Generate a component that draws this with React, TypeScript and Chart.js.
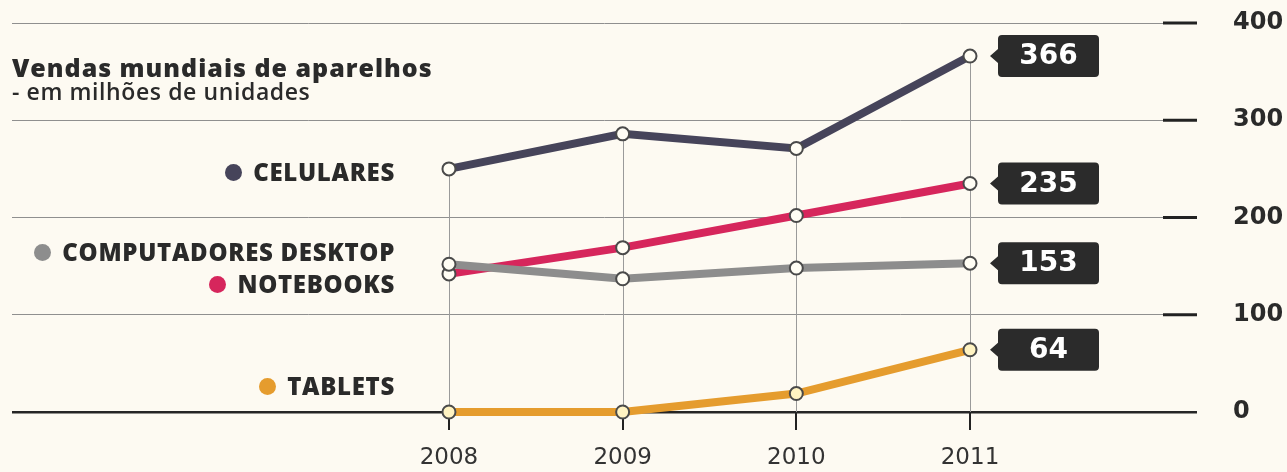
import React, { useEffect, useRef } from 'react';
import { Chart, registerables } from 'chart.js';

Chart.register(...registerables);

const years = [2008, 2009, 2010, 2011];
const celulares = [250, 286, 271, 366];
const desktops = [152, 137, 148, 153];
const notebooks = [142, 169, 202, 235];
const tablets = [0, 0, 19, 64];
const yTickValues = [0, 100, 200, 300, 400];

const titleText = 'Vendas mundiais de aparelhos';
const subtitleText = '- em milhões de unidades';

const seriesNames = ['CELULARES', 'COMPUTADORES DESKTOP', 'NOTEBOOKS', 'TABLETS'];
const seriesColors = ['#46445a', '#8d8d8d', '#d6265c', '#e59c2e'];
const legendTops = [172, 252, 284, 386];

const BG = '#fdfaf2';
const INK = '#2a2a2a';
const FONT = '"Open Sans", "DejaVu Sans", sans-serif';
const WIDE = '"DejaVu Sans", "Open Sans", sans-serif';

const bgPlugin = {
  id: 'bg',
  beforeDraw(chart: any) {
    const { ctx, width, height } = chart;
    ctx.save();
    ctx.fillStyle = BG;
    ctx.fillRect(0, 0, width, height);
    ctx.restore();
  },
};

const guidePlugin = {
  id: 'guides',
  beforeDatasetsDraw(chart: any) {
    const { ctx, scales } = chart;
    const xs = scales.x;
    const ys = scales.y;
    ctx.save();
    ctx.strokeStyle = '#9a9a9a';
    ctx.lineWidth = 1;
    years.forEach((yr, i) => {
      let maxV = 0;
      chart.data.datasets.forEach((ds: any) => {
        const v = ds.data[i].y;
        if (v > maxV) maxV = v;
      });
      const x = Math.round(xs.getPixelForValue(yr)) + 0.5;
      ctx.beginPath();
      ctx.moveTo(x, ys.getPixelForValue(maxV));
      ctx.lineTo(x, ys.getPixelForValue(0));
      ctx.stroke();
    });
    ctx.strokeStyle = '#222';
    ctx.lineWidth = 3;
    yTickValues.forEach((v) => {
      if (v === 0) return;
      const y = ys.getPixelForValue(v);
      ctx.beginPath();
      ctx.moveTo(chart.chartArea.right - 34, y);
      ctx.lineTo(chart.chartArea.right, y);
      ctx.stroke();
    });
    ctx.restore();
  },
};

const boxPlugin = {
  id: 'valueBoxes',
  afterDatasetsDraw(chart: any) {
    const { ctx } = chart;
    ctx.save();
    chart.data.datasets.forEach((ds: any, i: number) => {
      const meta = chart.getDatasetMeta(i);
      const pt = meta.data[meta.data.length - 1];
      const val = ds.data[ds.data.length - 1].y;
      const tipX = pt.x + 20;
      const left = pt.x + 28;
      const w = 101;
      const h = 42;
      const top = pt.y - h / 2;
      const r = 4;
      ctx.fillStyle = '#2b2b2b';
      ctx.beginPath();
      ctx.moveTo(left + r, top);
      ctx.lineTo(left + w - r, top);
      ctx.quadraticCurveTo(left + w, top, left + w, top + r);
      ctx.lineTo(left + w, top + h - r);
      ctx.quadraticCurveTo(left + w, top + h, left + w - r, top + h);
      ctx.lineTo(left + r, top + h);
      ctx.quadraticCurveTo(left, top + h, left, top + h - r);
      ctx.lineTo(left, pt.y + 7);
      ctx.lineTo(tipX, pt.y);
      ctx.lineTo(left, pt.y - 7);
      ctx.lineTo(left, top + r);
      ctx.quadraticCurveTo(left, top, left + r, top);
      ctx.closePath();
      ctx.fill();
      ctx.fillStyle = '#ffffff';
      ctx.font = `bold 28px ${WIDE}`;
      ctx.textAlign = 'center';
      ctx.textBaseline = 'middle';
      ctx.fillText(String(val), left + w / 2, pt.y + 1);
    });
    ctx.restore();
  },
};

function makeDataset(label: string, values: number[], color: string, pointFill: string) {
  return {
    label,
    data: values.map((v, i) => ({ x: years[i], y: v })),
    borderColor: color,
    backgroundColor: color,
    borderWidth: 8,
    pointRadius: 6.5,
    pointBorderWidth: 2,
    pointBorderColor: '#4a4a4a',
    pointBackgroundColor: pointFill,
    tension: 0,
    clip: false as any,
  };
}

export default function App() {
  const canvasRef = useRef<HTMLCanvasElement | null>(null);

  useEffect(() => {
    if (!canvasRef.current) return;
    const chart = new Chart(canvasRef.current, {
      type: 'line',
      data: {
        datasets: [
          makeDataset(seriesNames[0], celulares, seriesColors[0], '#fffdf4'),
          makeDataset(seriesNames[1], desktops, seriesColors[1], '#fffdf4'),
          makeDataset(seriesNames[2], notebooks, seriesColors[2], '#fffdf4'),
          makeDataset(seriesNames[3], tablets, seriesColors[3], '#fff3c2'),
        ],
      },
      options: {
        responsive: false,
        animation: false,
        devicePixelRatio: 1,
        layout: { padding: { top: 23, left: 12, right: 0, bottom: 0 } },
        plugins: {
          legend: { display: false },
          tooltip: { enabled: false },
          title: { display: false },
        },
        scales: {
          x: {
            type: 'linear',
            min: 2005.484,
            max: 2012.307,
            afterBuildTicks: (s: any) => {
              s.ticks = years.map((v) => ({ value: v }));
            },
            afterFit: (s: any) => {
              s.height = 60;
              s.paddingLeft = 0;
              s.paddingRight = 0;
            },
            ticks: {
              callback: (v: any) => String(v),
              color: '#333',
              font: { family: WIDE, size: 23 },
              padding: 14,
              maxRotation: 0,
              autoSkip: false,
            },
            grid: {
              drawOnChartArea: false,
              drawTicks: true,
              tickLength: 18,
              color: '#222',
              lineWidth: 2,
            },
            border: { display: false },
          },
          y: {
            position: 'right',
            min: 0,
            max: 400,
            afterBuildTicks: (s: any) => {
              s.ticks = yTickValues.map((v) => ({ value: v }));
            },
            afterFit: (s: any) => {
              s.width = 90;
              s.paddingTop = 0;
              s.paddingBottom = 0;
            },
            ticks: {
              callback: (v: any) => String(v),
              color: INK,
              font: { family: WIDE, size: 24, weight: 'bold' },
              padding: 36,
            },
            grid: {
              drawTicks: false,
              color: (c: any) => (c.tick && c.tick.value === 0 ? '#262626' : '#8f8f8f'),
              lineWidth: (c: any) => (c.tick && c.tick.value === 0 ? 2.5 : 1),
            },
            border: { display: false },
          },
        },
      },
      plugins: [bgPlugin, guidePlugin, boxPlugin],
    });
    return () => chart.destroy();
  }, []);

  return (
    <div
      style={{
        position: 'fixed',
        left: 0,
        top: 0,
        width: 1287,
        height: 472,
        background: BG,
        fontFamily: FONT,
      }}
    >
      <canvas ref={canvasRef} width={1287} height={472} style={{ display: 'block', position: 'absolute', left: 0, top: 0 }} />
      <div
        style={{
          position: 'absolute',
          left: 12,
          top: 55,
          fontSize: 25,
          lineHeight: 1,
          fontWeight: 800,
          color: INK,
          whiteSpace: 'nowrap',
          letterSpacing: 1,
        }}
      >
        {titleText}
      </div>
      <div
        style={{
          position: 'absolute',
          left: 12,
          top: 80,
          fontSize: 23,
          lineHeight: 1,
          fontWeight: 600,
          color: INK,
          whiteSpace: 'nowrap',
          letterSpacing: 0.6,
        }}
      >
        {subtitleText}
      </div>
      {seriesNames.map((name, i) => (
        <div
          key={name}
          style={{
            position: 'absolute',
            right: 1287 - 395,
            top: legendTops[i] - 13,
            height: 26,
            display: 'flex',
            alignItems: 'center',
            whiteSpace: 'nowrap',
          }}
        >
          <span
            style={{
              display: 'inline-block',
              width: 17,
              height: 17,
              borderRadius: 9,
              background: seriesColors[i],
              marginRight: 11,
            }}
          />
          <span style={{ fontSize: 24, fontWeight: 800, color: INK, letterSpacing: 0.7, lineHeight: 1 }}>{name}</span>
        </div>
      ))}
    </div>
  );
}
